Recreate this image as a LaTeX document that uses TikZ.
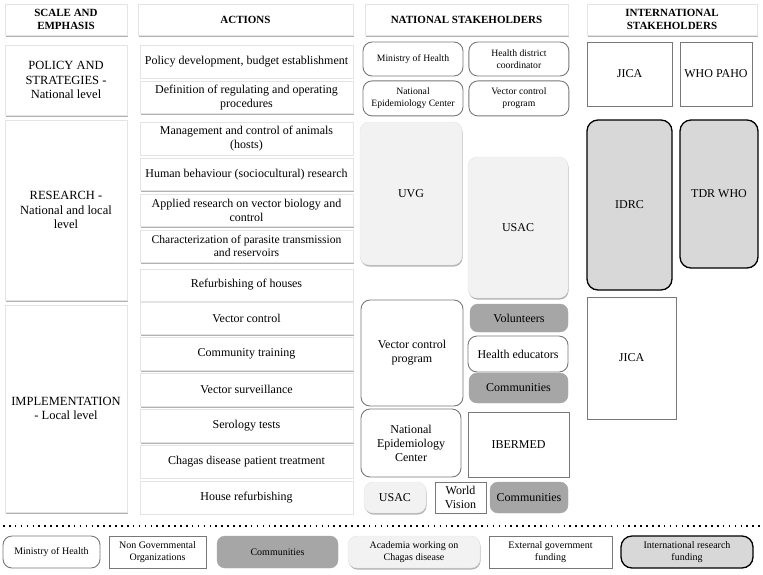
\documentclass[tikz,border=0pt]{standalone}
\usepackage{fontspec}
\setmainfont{Liberation Serif}
\usetikzlibrary{positioning, shadows}
\definecolor{edgeGrey}{RGB}{120, 120, 120}
\definecolor{paleEdge}{RGB}{228, 228, 228}
\definecolor{commGrey}{RGB}{166, 166, 166}
\definecolor{acadGrey}{RGB}{242, 242, 242}
\definecolor{resGrey}{RGB}{216, 216, 216}

\begin{document}
\begin{tikzpicture}[
      x=1pt, y=-1pt,
      every node/.style={font=\fontsize{12}{14}\selectfont, align=center, inner sep=2pt},
      softshadow/.style={drop shadow={shadow xshift=0.6pt, shadow yshift=-1.6pt, opacity=0.3, fill=black}},
      header/.style={rectangle, draw=paleEdge, fill=white, softshadow, minimum height=31pt, font=\fontsize{11}{13}\selectfont\bfseries},
      scalebox/.style={rectangle, draw=paleEdge, fill=white, softshadow, minimum width=122pt, font=\fontsize{12.5}{14.5}\selectfont},
      action/.style={rectangle, draw=paleEdge, fill=white, softshadow, minimum width=213pt, minimum height=32.5pt},
      ministry/.style={rectangle, draw=edgeGrey, fill=white, rounded corners=9pt, line width=0.9pt},
      ngo/.style={rectangle, draw=edgeGrey, fill=white, line width=0.9pt},
      community/.style={rectangle, draw=commGrey, fill=commGrey, rounded corners=8pt},
      academia/.style={rectangle, draw=paleEdge, fill=acadGrey, rounded corners=9pt, softshadow},
      intres/.style={rectangle, draw=black, fill=resGrey, rounded corners=11pt, line width=1.3pt},
      small/.style={font=\fontsize{9.7}{12.5}\selectfont},
      legend/.style={minimum height=32pt, font=\fontsize{10}{12}\selectfont}
    ]
      \useasboundingbox (0,0) rectangle (763,574);

      % Column headers
      \node[header, minimum width=122pt] (hscale) at (66,19.5) {SCALE AND\\EMPHASIS};
      \node[header, minimum width=215pt] (hact) at (245.5,19.5) {ACTIONS};
      \node[header, minimum width=203pt] (hnat) at (466.5,19.5) {NATIONAL STAKEHOLDERS};
      \node[header, minimum width=170pt] (hint) at (672,19.5) {INTERNATIONAL\\STAKEHOLDERS};

      % Scale and emphasis
      \node[scalebox, minimum height=70pt] (policy) at (66,80) {POLICY AND\\STRATEGIES -\\National level};
      \node[scalebox, minimum height=180pt] (research) at (66,210) {RESEARCH -\\National and local\\level};
      \node[scalebox, minimum height=207pt] (implement) at (66,408.5) {IMPLEMENTATION\\- Local level};

      % Actions
      \node[action, anchor=north] (act1) at (246.5,45) {Policy development, budget establishment};
      \node[action, below=3pt of act1] (act2) {Definition of regulating and operating\\procedures};
      \node[action, anchor=north] (act3) at (246.5,122) {Management and control of animals\\(hosts)};
      \node[action, below=3pt of act3] (act4) {Human behaviour (sociocultural) research};
      \node[action, below=3pt of act4] (act5) {Applied research on vector biology and\\control};
      \node[action, below=3pt of act5, font=\fontsize{11.6}{13.5}\selectfont] (act6) {Characterization of parasite transmission\\and reservoirs};
      \node[action, below=6pt of act6] (act7) {Refurbishing of houses};
      \node[action, anchor=north] (act8) at (246.5,301.5) {Vector control};
      \node[action, below=3pt of act8] (act9) {Community training};
      \node[action, below=3pt of act9] (act10) {Vector surveillance};
      \node[action, below=3pt of act10] (act11) {Serology tests};
      \node[action, below=3pt of act11] (act12) {Chagas disease patient treatment};
      \node[action, below=3pt of act12] (act13) {House refurbishing};

      % National stakeholders
      \node[ministry, small, minimum width=100pt, minimum height=34pt] (moh) at (413,59) {Ministry of Health};
      \node[ministry, small, minimum width=100pt, minimum height=34pt, right=5pt of moh] (hdc) {Health district\\coordinator};
      \node[ministry, small, minimum width=100pt, minimum height=35pt, below=4pt of moh] (nec) {National\\Epidemiology Center};
      \node[ministry, small, minimum width=100pt, minimum height=35pt, right=5pt of nec] (vcp) {Vector control\\program};
      \node[academia, minimum width=102pt, minimum height=143pt] (uvg) at (411,193.5) {UVG};
      \node[academia, minimum width=100pt, minimum height=141pt] (usac) at (518,227.5) {USAC};
      \node[ministry, minimum width=102pt, minimum height=106pt] (vcpl) at (412,353) {Vector control\\program};
      \node[community, minimum width=98pt, minimum height=28pt] (volun) at (519,318) {Volunteers};
      \node[ministry, minimum width=100pt, minimum height=36pt] (heduc) at (518,354) {Health educators};
      \node[community, minimum width=99pt, minimum height=30pt] (comm1) at (518.5,388) {Communities};
      \node[ministry, minimum width=100pt, minimum height=68pt] (necl) at (411,443) {National\\Epidemiology\\Center};
      \node[ngo, minimum width=101pt, minimum height=65pt] (ibermed) at (518.5,444.5) {IBERMED};
      \node[academia, minimum width=62pt, minimum height=31pt] (usacl) at (395,497.5) {USAC};
      \node[ngo, minimum width=51pt, minimum height=31pt] (wvision) at (460.5,497.5) {World\\Vision};
      \node[community, minimum width=78pt, minimum height=31pt] (comm2) at (529,497.5) {Communities};

      % International stakeholders
      \node[ngo, minimum width=85pt, minimum height=64pt] (jica1) at (629.5,74) {JICA};
      \node[ngo, minimum width=72pt, minimum height=64pt] (whopaho) at (716,74) {WHO PAHO};
      \node[intres, minimum width=85pt, minimum height=170pt] (idrc) at (629.5,205) {IDRC};
      \node[intres, minimum width=78pt, minimum height=148pt] (tdr) at (719,194) {TDR WHO};
      \node[ngo, minimum width=89pt, minimum height=122pt] (jica2) at (631.5,358) {JICA};

      % Legend
      \draw[line width=1.6pt, dash pattern=on 1.6pt off 4.3pt] (3,526) -- (761,526);
      \node[ministry, legend, minimum width=97pt] (lgmoh) at (51.5,552) {Ministry of Health};
      \node[ngo, legend, minimum width=97pt] (lgngo) at (157.5,552) {Non Governmental\\Organizations};
      \node[community, legend, minimum width=121pt] (lgcomm) at (277.5,552) {Communities};
      \node[academia, legend, minimum width=132pt] (lgacad) at (414,552) {Academia working on\\Chagas disease};
      \node[ngo, legend, minimum width=123pt] (lgext) at (550.5,552) {External government\\funding};
      \node[intres, legend, minimum width=132pt] (lgres) at (687,552) {International research\\funding};
    \end{tikzpicture}
\end{document}
